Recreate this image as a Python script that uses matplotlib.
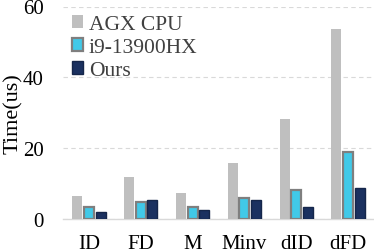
import numpy as np
import matplotlib
matplotlib.use("Agg")
import matplotlib.pyplot as plt

plt.rcParams["font.family"] = ["Liberation Serif", "DejaVu Serif"]

categories = ["ID", "FD", "M", "Minv", "dID", "dFD"]
agx_cpu = [6.4, 12.0, 7.3, 15.7, 28.2, 53.7]
i9_13900hx = [3.3, 4.9, 3.3, 6.0, 8.3, 18.8]
ours = [2.1, 5.5, 2.6, 5.5, 3.3, 8.8]

fig = plt.figure(figsize=(3.74, 2.53), dpi=100)
ax = fig.add_axes([63 / 374, 33 / 253, 311 / 374, 212.5 / 253])

x = np.arange(len(categories))
w = 0.19
step = 0.225
ax.bar(x - step, agx_cpu, w, color="#bfbfbf", label="AGX CPU", zorder=3)
ax.bar(x, i9_13900hx, w, color="#41c9e8", edgecolor="#7f7f7f", linewidth=1.6,
       label="i9-13900HX", zorder=3)
ax.bar(x + step, ours, w, color="#1b3160", edgecolor="#15264a", linewidth=1.0,
       label="Ours", zorder=3)

ax.set_xlim(-0.5, 5.5)
ax.set_ylim(0, 60)
ax.set_yticks([0, 20, 40, 60])
ax.set_xticks(x)
ax.set_xticklabels(categories)
ax.tick_params(length=0, labelsize=15, colors="black")
ax.tick_params(axis="x", pad=11)
ax.tick_params(axis="y", pad=14)
ax.yaxis.grid(True, linestyle=(0, (4, 3)), color="#d9d9d9", linewidth=0.8, zorder=0)
for s in ["top", "right", "left"]:
    ax.spines[s].set_visible(False)
ax.spines["bottom"].set_color("#d9d9d9")
ax.spines["bottom"].set_linewidth(1.0)
ax.set_ylabel("Time(us)", fontsize=16)
ax.yaxis.set_label_coords(-0.13, 0.5)

leg = ax.legend(loc="upper left", bbox_to_anchor=(0.0, 1.0), frameon=False,
                fontsize=15.5, handlelength=0.55, handleheight=0.55,
                handletextpad=0.25, labelspacing=0.18, borderaxespad=0.0)
for t in leg.get_texts():
    t.set_color("#404040")

fig.savefig("out.png", dpi=100)
